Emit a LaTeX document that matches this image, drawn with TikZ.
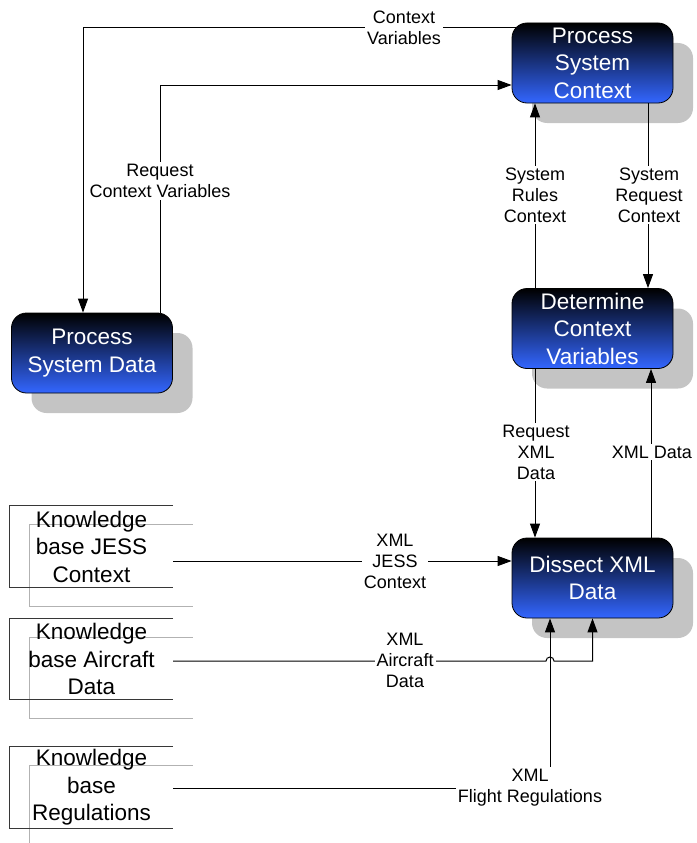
\documentclass[tikz,border=0pt]{standalone}
\usepackage{fontspec}
\setmainfont{Liberation Sans}
\usetikzlibrary{arrows.meta,shadows,backgrounds}

\definecolor{procblue}{RGB}{51,102,255}
\definecolor{shadowgray}{RGB}{196,196,196}
\definecolor{storeline}{RGB}{55,55,55}
\definecolor{storeshadow}{RGB}{178,178,178}

\tikzset{
  proc/.style={rounded corners=15pt, draw=black, line width=0.8pt,
    top color=black, bottom color=procblue,
    minimum width=161pt, minimum height=80pt, inner sep=0pt,
    text=white, font=\fontsize{22.5}{27.5}\selectfont, align=center,
    drop shadow={shadow xshift=20pt, shadow yshift=-20pt, fill=shadowgray, opacity=1}},
  store/.style={minimum width=163pt, minimum height=81pt, inner sep=0pt,
    font=\fontsize{22.5}{27.5}\selectfont, align=center},
  storeedge/.style={draw=storeline, line width=1pt},
  storeshade/.style={draw=storeshadow, line width=0.8pt},
  flow/.style={draw=black, line width=1pt, -{Triangle[length=14pt,width=10pt]}},
  lbl/.style={fill=white, font=\fontsize{18}{21}\selectfont, align=center, inner sep=2pt},
}

\begin{document}
\begin{tikzpicture}[x=1pt, y=-1pt]
\useasboundingbox (0,0) rectangle (696,843);

% processes
\node[proc] (ctx) at (592.5,63) {Process\\System\\Context};
\node[proc] (psd) at (92,353) {Process\\System Data};
\node[proc] (dcv) at (592.5,328.5) {Determine\\Context\\Variables};
\node[proc] (dxd) at (592.5,578) {Dissect XML\\Data};

% data stores
\node[store] (kj) at (91.5,546.5) {Knowledge\\base JESS\\Context};
\node[store] (ka) at (91.5,659) {Knowledge\\base Aircraft\\Data};
\node[store] (kr) at (91.5,787.5) {Knowledge\\base\\Regulations};

\begin{pgfonlayer}{background}
\foreach \s in {kj,ka,kr}{
  \draw[storeshade] ([shift={(183pt,-19pt)}]\s.north west) -- ([shift={(20pt,-19pt)}]\s.north west)
    -- ([shift={(20pt,-19pt)}]\s.south west) -- ([shift={(183pt,-19pt)}]\s.south west);
}
\end{pgfonlayer}
\foreach \s in {kj,ka,kr}{
  \draw[storeedge] (\s.north east) -- (\s.north west) -- (\s.south west) -- (\s.south east);
}

% flows between the processes
\draw[flow] ([xshift=4pt,yshift=-5pt]ctx.north west) -| ([xshift=-9pt]psd.north);
\node[lbl] (lcv) at (404,28) {Context\\Variables};

\draw[flow] ([xshift=68pt]psd.north) |- ([yshift=-22pt]ctx.west);
\node[lbl] (lrcv) at (160,181) {Request\\Context Variables};

\draw[flow] ([xshift=-57.5pt]dcv.north) -- ([xshift=-57.5pt]ctx.south);
\node[lbl] (lsrc) at (535,195) {System\\Rules\\Context};

\draw[flow] ([xshift=55.5pt]ctx.south) -- ([xshift=55.5pt]dcv.north);
\node[lbl] (lsqc) at (649,195) {System\\Request\\Context};

\draw[flow] ([xshift=-57.5pt]dcv.south) -- ([xshift=-57.5pt]dxd.north);
\node[lbl] (lrxd) at (536,452) {Request\\XML\\Data};

\draw[flow] ([xshift=58.5pt]dxd.north) -- ([xshift=58.5pt]dcv.south);
\node[lbl] (lxd) at (652,452) {XML Data};

% flows from the knowledge bases
\draw[flow] ([yshift=-14.5pt]kj.east) coordinate (j0) -- (j0 -| dxd.west);
\node[lbl] (ljc) at (395,561) {XML\\JESS\\Context};

\draw[flow] ([yshift=-2pt]ka.east) coordinate (a0) -- ([xshift=-46.5pt]a0 -| dxd.south)
  arc[start angle=180, end angle=0, radius=4pt] -- (a0 -| dxd.south) -- (dxd.south);
\node[lbl] (lad) at (405,660) {XML\\Aircraft\\Data};

\draw[flow] ([yshift=-0.5pt]kr.east) coordinate (r0) -- ([xshift=-42.5pt]r0 -| dxd.south)
  -- ([xshift=-42.5pt]dxd.south);
\node[lbl] (lfr) at (530,788) {XML\\Flight Regulations};
\end{tikzpicture}
\end{document}
